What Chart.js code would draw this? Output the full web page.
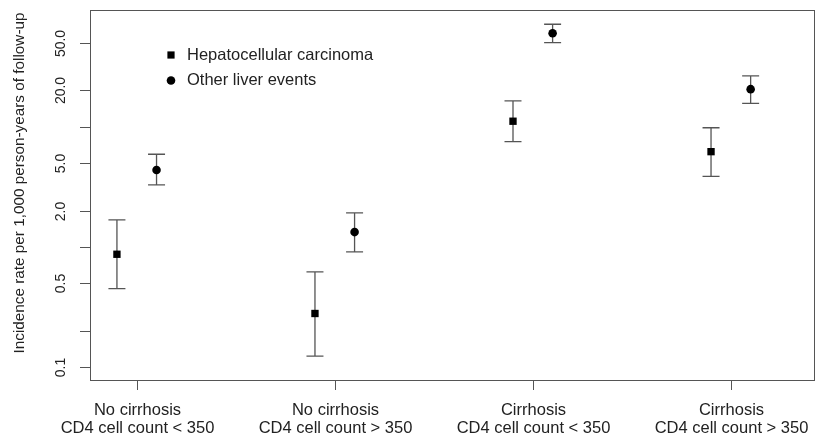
<!DOCTYPE html>
<html>
<head>
<meta charset="utf-8">
<script src="https://cdn.jsdelivr.net/npm/chart.js"></script>
<style>
  html, body { margin: 0; padding: 0; background: #fff; }
  #wrap { width: 816px; height: 443px; position: relative; }
</style>
</head>
<body>
<div id="wrap"><canvas id="chart"></canvas></div>
<script>
// groups on the x axis
const groups = [1, 2, 3, 4];
const groupLine1 = ["No cirrhosis", "No cirrhosis", "Cirrhosis", "Cirrhosis"];
const groupLine2 = ["CD4 cell count < 350", "CD4 cell count > 350", "CD4 cell count < 350", "CD4 cell count > 350"];

// incidence per 1,000 person-years, with 95% CI
const hccRate = [0.87, 0.28, 11.1, 6.2];
const hccLow  = [0.45, 0.124, 7.5, 3.87];
const hccHigh = [1.68, 0.62, 16.4, 9.8];

const otherRate = [4.37, 1.33, 59.8, 20.5];
const otherLow  = [3.28, 0.91, 49.9, 15.6];
const otherHigh = [5.9, 1.92, 71.0, 26.4];

const yTicks = [0.1, 0.2, 0.5, 1, 2, 5, 10, 20, 50];
const yTickLabels = ["0.1", "", "0.5", "", "2.0", "5.0", "", "20.0", "50.0"];

const seriesNames = ["Hepatocellular carcinoma", "Other liver events"];

const SHIFT = 0.2; // second series sits right of the group
const FONT = '"Liberation Sans", Arial, sans-serif';
const AXIS = "#555";
const TEXT = "#222";

const errorBars = {
  id: "errorBars",
  beforeDatasetsDraw(chart) {
    const ctx = chart.ctx;
    const sx = chart.scales.x, sy = chart.scales.y;
    ctx.save();
    ctx.strokeStyle = "#555";
    ctx.lineWidth = 1.3;
    chart.data.datasets.forEach(ds => {
      ds.data.forEach(d => {
        const x = sx.getPixelForValue(d.x);
        const y1 = sy.getPixelForValue(d.lo);
        const y2 = sy.getPixelForValue(d.hi);
        ctx.beginPath();
        ctx.moveTo(x, y1); ctx.lineTo(x, y2);
        ctx.moveTo(x - 8.5, y1); ctx.lineTo(x + 8.5, y1);
        ctx.moveTo(x - 8.5, y2); ctx.lineTo(x + 8.5, y2);
        ctx.stroke();
      });
    });
    ctx.restore();
  }
};

const frame = {
  id: "frame",
  afterDraw(chart) {
    const ctx = chart.ctx;
    const a = chart.chartArea;
    const sx = chart.scales.x, sy = chart.scales.y;
    ctx.save();
    ctx.strokeStyle = AXIS;
    ctx.lineWidth = 1;
    ctx.strokeRect(a.left + 0.5, a.top + 0.5, a.right - a.left - 1, a.bottom - a.top);

    // y ticks
    ctx.fillStyle = TEXT;
    ctx.font = "14px " + FONT;
    ctx.textAlign = "center";
    ctx.textBaseline = "middle";
    yTicks.forEach((v, i) => {
      const y = Math.round(sy.getPixelForValue(v)) + 0.5;
      ctx.beginPath();
      ctx.moveTo(a.left - 10, y); ctx.lineTo(a.left, y);
      ctx.stroke();
      if (yTickLabels[i]) {
        ctx.save();
        ctx.translate(a.left - 29, y);
        ctx.rotate(-Math.PI / 2);
        ctx.fillText(yTickLabels[i], 0, 0);
        ctx.restore();
      }
    });

    // x ticks, centred between the two markers of each group
    ctx.font = "16.5px " + FONT;
    groups.forEach((g, i) => {
      const x = Math.round(sx.getPixelForValue(g + SHIFT / 2)) + 0.5;
      ctx.beginPath();
      ctx.moveTo(x, a.bottom); ctx.lineTo(x, a.bottom + 10);
      ctx.stroke();
      ctx.fillText(groupLine1[i], x, a.bottom + 30);
      ctx.fillText(groupLine2[i], x, a.bottom + 48);
    });

    // y title
    ctx.save();
    ctx.font = "15.3px " + FONT;
    ctx.translate(20, 183);
    ctx.rotate(-Math.PI / 2);
    ctx.fillText("Incidence rate per 1,000 person-years of follow-up", 0, 0);
    ctx.restore();

    // legend
    ctx.font = "16.5px " + FONT;
    ctx.textAlign = "left";
    ctx.fillStyle = "#000";
    ctx.fillRect(171 - 3.6, 55 - 3.6, 7.2, 7.2);
    ctx.beginPath();
    ctx.arc(171, 80.5, 4.3, 0, Math.PI * 2);
    ctx.fill();
    ctx.fillStyle = TEXT;
    ctx.fillText(seriesNames[0], 187, 55);
    ctx.fillText(seriesNames[1], 187, 80.5);
    ctx.restore();
  }
};

const pts = (rate, lo, hi, shift) => groups.map((g, i) => ({ x: g + shift, y: rate[i], lo: lo[i], hi: hi[i] }));

new Chart(document.getElementById("chart"), {
  type: "scatter",
  data: {
    datasets: [
      {
        label: seriesNames[0],
        data: pts(hccRate, hccLow, hccHigh, 0),
        pointStyle: "rect",
        pointRadius: 5.2,
        backgroundColor: "#000",
        borderColor: "#000",
        borderWidth: 0
      },
      {
        label: seriesNames[1],
        data: pts(otherRate, otherLow, otherHigh, SHIFT),
        pointStyle: "circle",
        pointRadius: 4.3,
        backgroundColor: "#000",
        borderColor: "#000",
        borderWidth: 0
      }
    ]
  },
  options: {
    responsive: true,
    maintainAspectRatio: false,
    animation: false,
    layout: { autoPadding: false, padding: { left: 90, right: 1, top: 10, bottom: 63 } },
    plugins: { legend: { display: false }, tooltip: { enabled: false } },
    scales: {
      x: { type: "linear", min: 0.864, max: 4.525, display: false },
      y: { type: "logarithmic", min: 0.0784, max: 93.3, display: false }
    }
  },
  plugins: [errorBars, frame]
});
</script>
</body>
</html>
